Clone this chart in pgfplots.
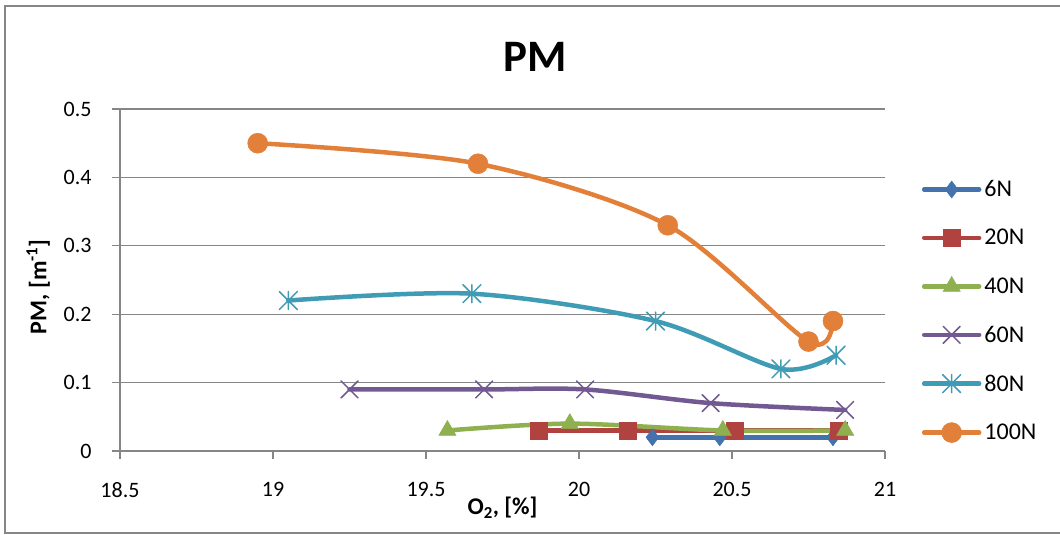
\documentclass[border=0pt]{standalone}
\usepackage{fontspec}
\setmainfont{Carlito}
\usepackage{pgfplots}
\pgfplotsset{compat=1.18}
\definecolor{cA}{RGB}{68,114,172}
\definecolor{cB}{RGB}{176,67,63}
\definecolor{cC}{RGB}{143,176,79}
\definecolor{cD}{RGB}{115,89,145}
\definecolor{cE}{RGB}{64,156,180}
\definecolor{cF}{RGB}{226,128,58}
\definecolor{axgray}{RGB}{134,134,134}
\pgfdeclareplotmark{xstar}{%
 \pgfpathmoveto{\pgfqpoint{0pt}{-\pgfplotmarksize}}\pgfpathlineto{\pgfqpoint{0pt}{\pgfplotmarksize}}%
 \pgfpathmoveto{\pgfqpoint{-\pgfplotmarksize}{-\pgfplotmarksize}}\pgfpathlineto{\pgfqpoint{\pgfplotmarksize}{\pgfplotmarksize}}%
 \pgfpathmoveto{\pgfqpoint{-\pgfplotmarksize}{\pgfplotmarksize}}\pgfpathlineto{\pgfqpoint{\pgfplotmarksize}{-\pgfplotmarksize}}%
 \pgfusepathqstroke}
\begin{document}
\begin{tikzpicture}
\draw[axgray, line width=1.2pt] (5pt,2pt) rectangle (1064pt,529pt);
\node[anchor=base, font=\fontsize{45}{50}\selectfont\bfseries] at (535pt,463pt) {PM};
\begin{axis}[
  at={(120pt,84pt)}, anchor=south west,
  scale only axis, width=765pt, height=342pt,
  xmin=18.5, xmax=21, ymin=0, ymax=0.5,
  xtick={18.5,19,19.5,20,20.5,21},
  ytick={0,0.1,0.2,0.3,0.4,0.5},
  /pgf/number format/assume math mode=true,
  /pgf/number format/fixed,
  axis x line=bottom, axis y line=left,
  axis line style={-, axgray, line width=1.2pt},
  tick align=outside, major tick length=8pt,
  tick style={axgray, line width=1.2pt},
  ymajorgrids, grid style={axgray, line width=1.2pt},
  ticklabel style={font=\fontsize{22}{26}\selectfont, text=black},
  xticklabel style={yshift=-20pt},
  yticklabel style={xshift=-17pt},
  xlabel={O\textsubscript{2}, [\%]},
  ylabel={PM, [m\textsuperscript{-1}]},
  every axis x label/.style={at={(axis description cs:0.5,-0.187)}, anchor=base, font=\fontsize{24}{28}\selectfont\bfseries},
  every axis y label/.style={at={(axis description cs:-0.107,0.48)}, rotate=90, anchor=center, font=\fontsize{24}{28}\selectfont\bfseries},
  legend style={at={(1.048,0.409)}, anchor=west, draw=none, fill=none, inner sep=0pt,
     font=\fontsize{24}{28}\selectfont, row sep=29pt, nodes={inner xsep=3pt, inner ysep=1pt}},
  legend cell align=left,
  legend image code/.code={\draw[#1, mark repeat=2, mark phase=2] plot coordinates {(0pt,0pt)(27.5pt,0pt)(55pt,0pt)};},
  every axis plot/.append style={line width=4.5pt, line cap=round, smooth},
]
\addplot[cA, mark=diamond*, mark size=8.5pt, mark options={solid, fill=cA, line width=0.5pt}]
  coordinates {(20.24,0.02)(20.46,0.02)(20.83,0.02)};
\addlegendentry{6N}
\addplot[cB, mark=square*, mark size=8.5pt, mark options={solid, fill=cB, line width=0.5pt}]
  coordinates {(19.87,0.03)(20.16,0.03)(20.51,0.03)(20.85,0.03)};
\addlegendentry{20N}
\addplot[cC, mark=triangle*, mark size=10pt, mark options={solid, fill=cC, line width=0.5pt}]
  coordinates {(19.57,0.03)(19.97,0.04)(20.47,0.03)(20.87,0.03)};
\addlegendentry{40N}
\addplot[cD, mark=x, mark size=12pt, mark options={solid, line width=1.5pt}]
  coordinates {(19.25,0.09)(19.69,0.09)(20.02,0.09)(20.43,0.07)(20.87,0.06)};
\addlegendentry{60N}
\addplot[cE, mark=xstar, mark size=9pt, mark options={solid, line width=1.5pt}]
  coordinates {(19.05,0.22)(19.65,0.23)(20.25,0.19)(20.66,0.12)(20.84,0.14)};
\addlegendentry{80N}
\addplot[cF, mark=*, mark size=10pt, mark options={solid, fill=cF, line width=0.5pt}]
  coordinates {(18.95,0.45)(19.67,0.42)(20.29,0.33)(20.75,0.16)(20.83,0.19)};
\addlegendentry{100N}
\end{axis}
\pgfresetboundingbox
\path[use as bounding box] (0pt,0pt) rectangle (1060pt,535pt);
\end{tikzpicture}
\end{document}
